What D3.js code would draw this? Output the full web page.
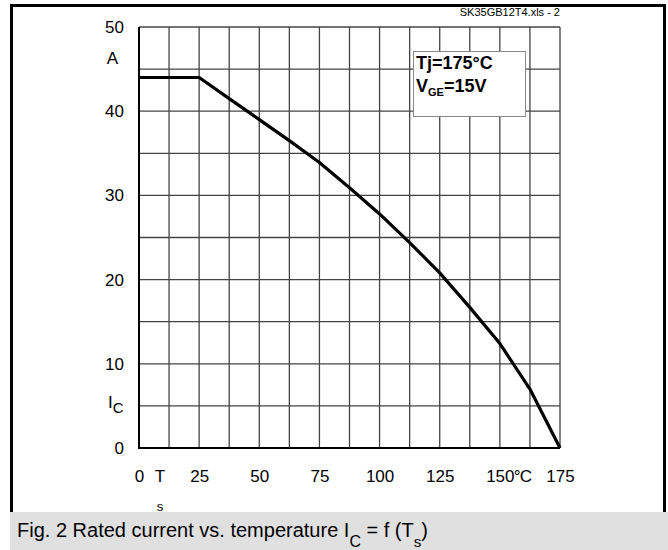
<!DOCTYPE html>
<html>
<head>
<meta charset="utf-8">
<script src="https://cdn.jsdelivr.net/npm/d3@7"></script>
<style>
body { margin: 0; background: #fff; }
text { font-family: "Liberation Sans", Arial, sans-serif; }
</style>
</head>
<body>
<svg id="chart" width="668" height="550"></svg>
<script>
// rated current vs. heatsink temperature
var temps    = [0, 25, 37.5, 50, 62.5, 75, 87.5, 100, 112.5, 125, 137.5, 150, 162.5, 175];
var currents = [44, 44, 41.5, 39.0, 36.5, 33.9, 30.9, 27.8, 24.4, 20.8, 16.7, 12.4, 7.0, 0];
var xTicks = [0, 25, 50, 75, 100, 125, 150, 175];
var yTicks = [0, 10, 20, 30, 40, 50];

var cfg = { left: 139, right: 560, top: 27, bottom: 448 };

var svg = d3.select("#chart");

var x = d3.scaleLinear().domain([0, 175]).range([cfg.left, cfg.right]);
var y = d3.scaleLinear().domain([0, 50]).range([cfg.bottom, cfg.top]);

// outer frame
svg.append("path")
	.attr("d", "M11.5,515 V5.5 H664.5 V515")
	.attr("fill", "none")
	.attr("stroke", "#000")
	.attr("stroke-width", 3);

// caption band
svg.append("rect")
	.attr("x", 10).attr("y", 512)
	.attr("width", 658).attr("height", 38)
	.attr("fill", "#e0e0e0");

var cap = svg.append("text")
	.attr("x", 17).attr("y", 537)
	.attr("font-size", 20);
cap.append("tspan").text("Fig. 2 Rated current vs. temperature I");
cap.append("tspan").attr("dy", 10).attr("font-size", 16).text("C");
cap.append("tspan").attr("dy", -10).text(" = f (T");
cap.append("tspan").attr("dy", 10).attr("font-size", 15).text("s");
cap.append("tspan").attr("dy", -10).text(")");

// file tag
svg.append("text")
	.attr("x", 560).attr("y", 16)
	.attr("text-anchor", "end")
	.attr("font-size", 11)
	.text("SK35GB12T4.xls - 2");

// grid
var grid = svg.append("g")
	.attr("stroke", "#444")
	.attr("stroke-width", 1.3);

grid.selectAll("line.v")
	.data(d3.range(0, 175.1, 12.5))
	.enter().append("line")
	.attr("x1", function(d) { return x(d); })
	.attr("x2", function(d) { return x(d); })
	.attr("y1", cfg.top).attr("y2", cfg.bottom);

grid.selectAll("line.h")
	.data(d3.range(0, 50.1, 5))
	.enter().append("line")
	.attr("x1", cfg.left).attr("x2", cfg.right)
	.attr("y1", function(d) { return y(d); })
	.attr("y2", function(d) { return y(d); });

// heavier axis edges
svg.append("path")
	.attr("d", "M" + cfg.left + "," + cfg.top + " V" + cfg.bottom + " H" + cfg.right)
	.attr("fill", "none")
	.attr("stroke", "#000")
	.attr("stroke-width", 2);

// y labels
svg.append("g")
	.attr("transform", "translate(" + (cfg.left - 15) + ",0)")
	.call(d3.axisLeft(y).tickValues(yTicks).tickSize(0).tickPadding(0))
	.call(function(g) { g.select(".domain").remove(); })
	.selectAll("text")
	.attr("font-family", "Liberation Sans, Arial, sans-serif")
	.attr("font-size", 17)
	.attr("fill", "#000");

svg.append("text")
	.attr("x", 118).attr("y", 64)
	.attr("text-anchor", "end")
	.attr("font-size", 17)
	.text("A");

var ic = svg.append("text")
	.attr("x", 108).attr("y", 408)
	.attr("font-size", 17);
ic.append("tspan").text("I");
ic.append("tspan").attr("dy", 5).attr("font-size", 15).text("C");

// x labels
svg.append("g")
	.attr("transform", "translate(0," + (cfg.bottom + 22) + ")")
	.call(d3.axisBottom(x).tickValues(xTicks).tickSize(0).tickPadding(0))
	.call(function(g) { g.select(".domain").remove(); })
	.selectAll("text")
	.attr("font-family", "Liberation Sans, Arial, sans-serif")
	.attr("font-size", 17)
	.attr("fill", "#000");

svg.append("text")
	.attr("x", x(150) + 14).attr("y", 482)
	.attr("font-size", 17)
	.attr("letter-spacing", -1)
	.text("°C");

svg.append("text")
	.attr("x", 160).attr("y", 482)
	.attr("text-anchor", "middle")
	.attr("font-size", 17)
	.text("T");
svg.append("text")
	.attr("x", 160).attr("y", 511)
	.attr("text-anchor", "middle")
	.attr("font-size", 13)
	.text("s");

// curve
var line = d3.line()
	.x(function(d, i) { return x(temps[i]); })
	.y(function(d) { return y(d); });

svg.append("path")
	.datum(currents)
	.attr("d", line)
	.attr("fill", "none")
	.attr("stroke", "#000")
	.attr("stroke-width", 3.2)
	.attr("stroke-linejoin", "round");

// condition box
svg.append("rect")
	.attr("x", 413.5).attr("y", 51.5)
	.attr("width", 112).attr("height", 65)
	.attr("fill", "#fff")
	.attr("stroke", "#888")
	.attr("stroke-width", 1);

svg.append("text")
	.attr("x", 416).attr("y", 69)
	.attr("font-size", 18)
	.attr("font-weight", "bold")
	.text("Tj=175°C");

var vge = svg.append("text")
	.attr("x", 416).attr("y", 92)
	.attr("font-size", 18)
	.attr("font-weight", "bold");
vge.append("tspan").text("V");
vge.append("tspan").attr("dy", 4).attr("font-size", 11).text("GE");
vge.append("tspan").attr("dy", -4).text("=15V");
</script>
</body>
</html>
